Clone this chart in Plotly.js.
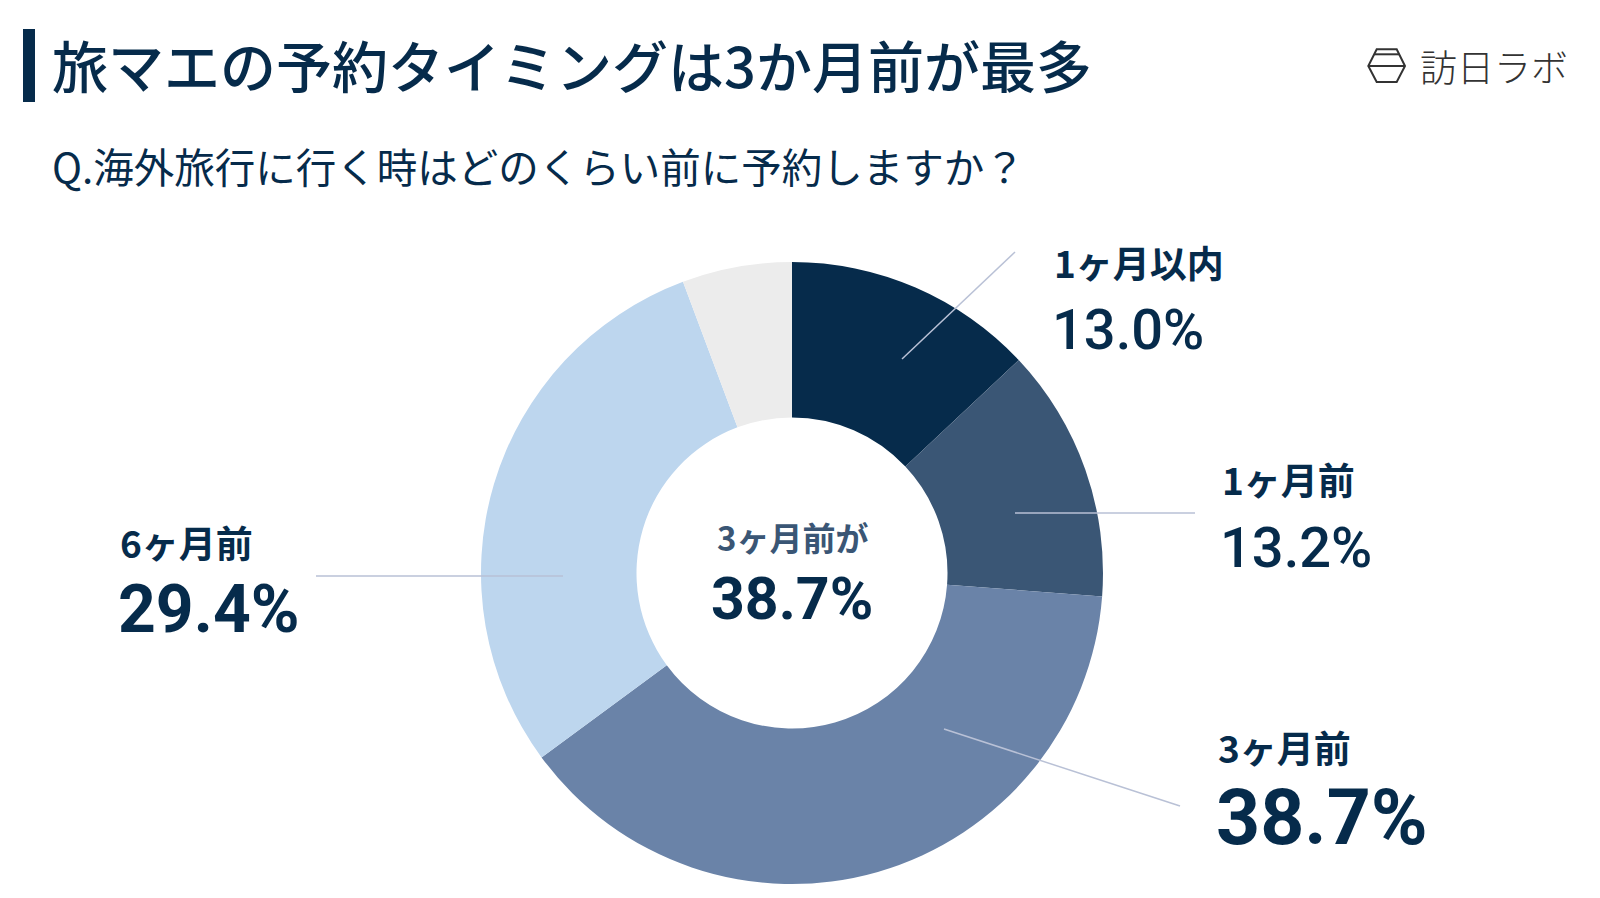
<!DOCTYPE html>
<html>
<head>
<meta charset="utf-8">
<script src="https://cdn.plot.ly/plotly-3.0.1.min.js"></script>
<style>
  html, body { margin: 0; padding: 0; background: #fff; }
  #chart { width: 1600px; height: 898px; }
</style>
</head>
<body>
<div id="chart"></div>
<script>
// survey answers, clockwise from 12 o'clock
var categories = ['1ヶ月以内', '1ヶ月前', '3ヶ月前', '6ヶ月前', 'その他'];
var shares = [13.0, 13.2, 38.7, 29.4, 5.7];
var sliceColors = ['#062b4b', '#3a5675', '#6a83a8', '#bdd6ee', '#ececec'];

var W = 1600, H = 898;
function px(x) { return x / W; }
function py(y) { return 1 - y / H; }

var jp = '"Noto Sans CJK JP", "Noto Sans", sans-serif';
var num = 'Roboto, "Noto Sans CJK JP", sans-serif';
var navy = '#062b4b';

var cx = 792, cy = 573, r = 311;

var data = [
    {
        values : shares,
        labels : categories,
        type : 'pie',
        hole : 0.5,
        sort : false,
        direction : 'clockwise',
        rotation : 0,
        textinfo : 'none',
        hoverinfo : 'label+percent',
        marker : { colors : sliceColors, line : { width : 0 } },
        domain : { x : [px(cx - r), px(cx + r)], y : [py(cy + r), py(cy - r)] },
        showlegend : false
    }
];

function label(text, x, y, size, weight, color, family) {
    return {
        text : text, x : px(x), y : py(y), xref : 'paper', yref : 'paper',
        xanchor : 'left', yanchor : 'middle', showarrow : false,
        font : { family : family || jp, size : size, weight : weight, color : color || navy }
    };
}

// label blocks: name and value, one per labelled slice
var nameTexts = [categories[0], categories[1], categories[2], categories[3]];
var valueTexts = shares.slice(0, 4).map(function (v) { return v.toFixed(1) + '%'; });

var annotations = [
    label('旅マエの予約タイミングは3か月前が最多', 50, 64, 56, 500),
    label('Q.海外旅行に行く時はどのくらい前に予約しますか？', 50, 165, 40.5, 400),
    label('訪日ラボ', 1418, 66, 37, 300, '#333333'),

    label(nameTexts[0], 1052, 262, 37, 700),
    label(valueTexts[0], 1050, 330, 56, 500, navy, num),
    label(nameTexts[1], 1220, 479, 37, 700),
    label(valueTexts[1], 1218, 548, 56, 500, navy, num),
    label(nameTexts[2], 1216, 747, 37, 700),
    label(valueTexts[2], 1214, 818, 77, 700, navy, num),
    label(nameTexts[3], 118, 542, 37, 700),
    label(valueTexts[3], 116, 609, 66, 700, navy, num),

    {
        text : '3ヶ月前が', x : px(cx), y : py(537), xref : 'paper', yref : 'paper',
        xanchor : 'center', yanchor : 'middle', showarrow : false,
        font : { family : jp, size : 33, weight : 700, color : '#3a5675' }
    },
    {
        text : valueTexts[2], x : px(cx), y : py(598), xref : 'paper', yref : 'paper',
        xanchor : 'center', yanchor : 'middle', showarrow : false,
        font : { family : num, size : 59, weight : 700, color : navy }
    }
];

function seg(x0, y0, x1, y1, color, width) {
    return {
        type : 'line', xref : 'paper', yref : 'paper',
        x0 : px(x0), y0 : py(y0), x1 : px(x1), y1 : py(y1),
        line : { color : color, width : width }
    };
}

var leader = '#b9c1d6';
var hex = [[1376.7, 49.3], [1396.7, 49.3], [1405, 66], [1396.7, 82], [1376.7, 82], [1368.3, 66]];
var hexPath = hex.map(function (p, i) {
    return (i ? 'L' : 'M') + px(p[0]) + ',' + py(p[1]);
}).join(' ') + ' Z';

var shapes = [
    // title bar
    { type : 'rect', xref : 'paper', yref : 'paper', x0 : px(23), x1 : px(35), y0 : py(102), y1 : py(29),
      fillcolor : navy, line : { width : 0 } },
    // leader lines
    seg(902, 359, 1015, 252, leader, 1.5),
    seg(1015, 513, 1195, 513, leader, 1.5),
    seg(944, 729, 1180, 806, leader, 1.5),
    seg(316, 576, 563, 576, leader, 1.5),
    // logo mark
    { type : 'path', xref : 'paper', yref : 'paper', path : hexPath, line : { color : '#333333', width : 2 } },
    seg(1368.3, 66, 1405, 66, '#333333', 2),
    seg(1374.2, 54.3, 1399.2, 54.3, '#333333', 2)
];

var layout = {
    width : W,
    height : H,
    autosize : false,
    margin : { l : 0, r : 0, t : 0, b : 0 },
    paper_bgcolor : '#ffffff',
    annotations : annotations,
    shapes : shapes
};

Plotly.newPlot('chart', data, layout, { displayModeBar : false, staticPlot : true });
</script>
</body>
</html>
